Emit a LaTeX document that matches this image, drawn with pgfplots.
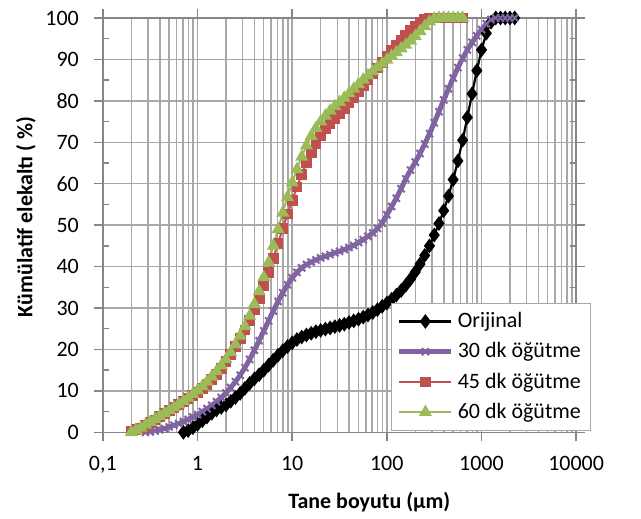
\documentclass[border=0pt]{standalone}
\usepackage{fontspec}
\setmainfont{Carlito}
\usepackage{pgfplots}
\pgfplotsset{compat=1.18}
\definecolor{cpurple}{RGB}{128,100,162}
\definecolor{cred}{RGB}{192,80,77}
\definecolor{cgreen}{RGB}{155,187,89}
\definecolor{gridgray}{RGB}{168,168,168}
\definecolor{axisgray}{RGB}{134,134,134}
\begin{document}
\begin{tikzpicture}
\begin{axis}[
  at={(0,0)}, anchor=south west,
  scale only axis, width=237pt, height=207.5pt,
  xmode=log, xmin=0.1, xmax=10000, ymin=0, ymax=100,
  xtick={0.1,1,10,100,1000,10000},
  xticklabels={{0,1},1,10,100,1000,10000},
  ytick={0,10,...,100},
  extra y ticks={5,15,...,95},
  extra y tick labels={},
  extra y tick style={grid=none, tick align=inside, major tick length=3pt},
  xmajorgrids, xminorgrids, ymajorgrids,
  grid style={color=gridgray, line width=0.75pt},
  minor grid style={color=gridgray, line width=0.75pt},
  major grid style={color=gridgray, line width=0.75pt},
  axis line style={color=axisgray, line width=0.75pt},
  tick style={color=axisgray, line width=0.75pt},
  tick align=outside, major tick length=4.5pt, minor tick length=0pt,
  /pgf/number format/assume math mode=true,
  tick label style={font=\fontsize{11}{13}\selectfont, text=black},
  yticklabel style={xshift=-4pt},
  xticklabel style={yshift=-4pt},
  xlabel={\textbf{Tane boyutu (µm)}},
  ylabel={\textbf{Kümülatif elekaltı ( \%)}},
  label style={font=\fontsize{11}{13}\selectfont},
  xlabel style={at={(axis description cs:0.563,-0.1675)}, anchor=center},
  ylabel style={at={(axis description cs:-0.1624,0.52)}, anchor=center, rotate=0},
  legend cell align=left,
  legend image code/.code={\draw[mark repeat=2,mark phase=2] plot coordinates {(0pt,0pt) (13pt,0pt) (26pt,0pt)};},
  legend style={at={(1.032,0.004)}, anchor=south east, font=\fontsize{11}{13}\selectfont,
    draw=gridgray, fill=white, inner xsep=3pt, inner ysep=2.5pt, row sep=2pt},
]
\addplot[black, line width=1.1pt, mark=diamond*, mark size=2.8pt, mark options={solid, fill=black}] table {
0.710 0
0.796 0.4
0.893 1.1
1.002 1.9
1.125 2.8
1.262 3.7
1.416 4.6
1.589 5.4
1.783 6.0
2.000 6.6
2.244 7.5
2.518 8.4
2.825 9.4
3.170 10.6
3.557 11.8
3.991 12.9
4.477 13.9
5.024 15.0
5.637 16.2
6.325 17.4
7.096 18.6
7.962 19.7
8.934 20.7
10.024 21.6
11.247 22.4
12.619 23.0
14.159 23.5
15.887 23.9
17.825 24.3
20.000 24.6
22.440 24.9
25.179 25.2
28.251 25.5
31.698 25.8
35.566 26.1
39.905 26.5
44.774 26.9
50.238 27.3
56.368 27.8
63.246 28.3
70.963 28.9
79.621 29.6
89.337 30.4
100.237 31.2
112.468 32.1
126.191 33.1
141.589 34.2
158.866 35.5
178.250 37.0
200.000 38.7
224.404 40.6
251.785 42.7
282.508 45.0
316.979 47.6
355.656 50.4
399.052 53.5
447.744 57.0
502.377 61.0
563.677 65.5
632.456 70.5
709.627 76.0
796.214 81.7
893.367 87.3
1002.374 92.3
1124.683 96.3
1261.915 99.0
1415.892 100
1588.656 100
1782.502 100
2000.000 100
2244.000 100
};
\addlegendentry{Orijinal}
\addplot[cpurple, line width=2.5pt, mark=x, mark size=2.5pt, mark options={solid, line width=1pt}] table {
0.283 0
0.317 0.1
0.356 0.3
0.399 0.6
0.448 0.9
0.502 1.3
0.564 1.7
0.632 2.1
0.710 2.6
0.796 3.1
0.893 3.7
1.002 4.3
1.125 5.0
1.262 5.7
1.416 6.5
1.589 7.4
1.783 8.4
2.000 9.5
2.244 10.8
2.518 12.2
2.825 13.8
3.170 15.6
3.557 17.6
3.991 19.8
4.477 22.1
5.024 24.5
5.637 26.9
6.325 29.3
7.096 31.6
7.962 33.7
8.934 35.6
10.024 37.3
11.247 38.6
12.619 39.7
14.159 40.5
15.887 41.1
17.825 41.6
20.000 42.1
22.440 42.5
25.179 42.9
28.251 43.3
31.698 43.7
35.566 44.1
39.905 44.6
44.774 45.1
50.238 45.8
56.368 46.5
63.246 47.3
70.963 48.1
79.621 49.2
89.337 50.5
100.237 52.5
112.468 54.5
126.191 56.5
141.589 58.8
158.866 61.2
178.250 63.3
200.000 65.2
224.404 67.3
251.785 69.6
282.508 72.1
316.979 74.7
355.656 77.4
399.052 80.2
447.744 82.9
502.377 85.5
563.677 88.0
632.456 90.3
709.627 92.3
796.214 94.1
893.367 95.7
1002.374 97.2
1124.683 98.6
1261.915 99.6
1415.892 100
1588.656 100
1782.502 100
2000.000 100
2244.000 100
};
\addlegendentry{30 dk öğütme}
\addplot[cred, line width=1pt, mark=square*, mark size=2.2pt, mark options={solid, fill=cred}] table {
0.200 0.3
0.224 0.6
0.252 1.0
0.283 1.6
0.317 2.3
0.356 3.0
0.399 3.8
0.448 4.6
0.502 5.3
0.564 6.0
0.632 6.7
0.710 7.4
0.796 8.1
0.893 8.9
1.002 9.7
1.125 10.6
1.262 11.6
1.416 12.7
1.589 14.0
1.783 15.4
2.000 17.0
2.244 18.8
2.518 20.7
2.825 22.6
3.170 24.7
3.557 27.0
3.991 29.5
4.477 32.3
5.024 35.3
5.637 38.5
6.325 42.0
7.096 45.6
7.962 49.2
8.934 52.7
10.024 56.0
11.247 59.2
12.619 62.2
14.159 65.0
15.887 67.5
17.825 69.7
20.000 71.6
22.440 73.2
25.179 74.6
28.251 75.8
31.698 77.0
35.566 78.2
39.905 79.5
44.774 80.9
50.238 82.3
56.368 83.7
63.246 85.1
70.963 86.5
79.621 87.9
89.337 89.3
100.237 90.7
112.468 92.1
126.191 93.4
141.589 94.7
158.866 95.9
178.250 97.0
200.000 98.0
224.404 98.9
251.785 99.6
282.508 100
316.979 100
355.656 100
399.052 100
447.744 100
502.377 100
563.677 100
632.456 100
};
\addlegendentry{45 dk öğütme}
\addplot[cgreen, line width=1pt, mark=triangle*, mark size=2.8pt, mark options={solid, fill=cgreen}] table {
0.200 0.0
0.224 0.5
0.252 1.1
0.283 1.8
0.317 2.5
0.356 3.2
0.399 3.9
0.448 4.6
0.502 5.3
0.564 6.0
0.632 6.7
0.710 7.5
0.796 8.3
0.893 9.2
1.002 10.1
1.125 11.1
1.262 12.2
1.416 13.4
1.589 14.7
1.783 16.1
2.000 17.6
2.244 19.3
2.518 21.2
2.825 23.3
3.170 25.6
3.557 28.1
3.991 30.9
4.477 34.0
5.024 37.4
5.637 41.0
6.325 45.0
7.096 49.0
7.962 53.0
8.934 56.8
10.024 60.3
11.247 63.5
12.619 66.5
14.159 69.2
15.887 71.5
17.825 73.4
20.000 75.0
22.440 76.4
25.179 77.6
28.251 78.7
31.698 79.7
35.566 80.7
39.905 81.8
44.774 82.9
50.238 84.0
56.368 85.1
63.246 86.1
70.963 87.1
79.621 88.1
89.337 89.0
100.237 89.9
112.468 90.8
126.191 91.7
141.589 92.6
158.866 93.5
178.250 94.5
200.000 95.6
224.404 96.8
251.785 98.0
282.508 99.1
316.979 99.8
355.656 100
399.052 100
447.744 100
502.377 100
563.677 100
632.456 100
};
\addlegendentry{60 dk öğütme}
\end{axis}
\pgfresetboundingbox
\path[use as bounding box] (-51.5pt,-43pt) rectangle (269.5pt,216.5pt);
\end{tikzpicture}
\end{document}
